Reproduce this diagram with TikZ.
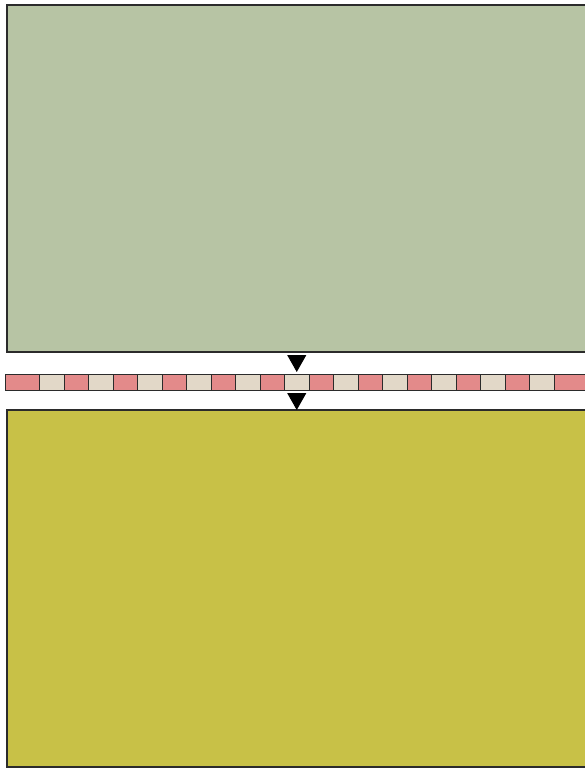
\documentclass[tikz,border=0pt]{standalone}
\usepackage{xcolor}
\usepackage{tikz}
\usetikzlibrary{positioning,arrows.meta}
\definecolor{upfill}{HTML}{B7C4A4}
\definecolor{lowfill}{HTML}{C8C147}
\definecolor{redcell}{HTML}{E38A8A}
\definecolor{papercell}{HTML}{E2D8C8}
\definecolor{edgecol}{HTML}{2B2B2B}
\tikzset{
  panel/.style={draw=edgecol, line width=1.2pt, inner sep=0pt, outer sep=0pt, anchor=north west, minimum width=600pt},
  cell/.style={draw=edgecol, line width=1pt, inner sep=0pt, outer sep=0pt, minimum height=16pt, minimum width=24.5pt},
  flow/.style={-{Triangle[length=17pt,width=19pt]}, line width=1pt, shorten <=3pt}
}

\begin{document}
\begin{tikzpicture}[x=1pt,y=-1pt]
  \useasboundingbox (0,0) rectangle (585,768);
  \node[panel, fill=upfill, minimum height=347pt] (upper) at (7,5) {};

  % strip of cells
  \node[cell, fill=redcell, minimum width=34.5pt, anchor=west] (c0) at (5,382) {};
  \foreach \i in {1,...,21}{
    \pgfmathtruncatemacro{\p}{\i-1}
    \pgfmathtruncatemacro{\odd}{mod(\i,2)}
    \ifnum\odd=1 \def\cf{papercell}\else\def\cf{redcell}\fi
    \node[cell, fill=\cf, right=0pt of c\p] (c\i) {};
  }
  \node[cell, fill=redcell, minimum width=34.5pt, right=0pt of c21] (c22) {};

  \node[panel, fill=lowfill, minimum height=357pt] (lower) at (7,410) {};

  \draw[flow, shorten >=2pt] (upper.south -| c11) -- (c11.north);
  \draw[flow] (c11.south) -- (lower.north -| c11);
\end{tikzpicture}
\end{document}
